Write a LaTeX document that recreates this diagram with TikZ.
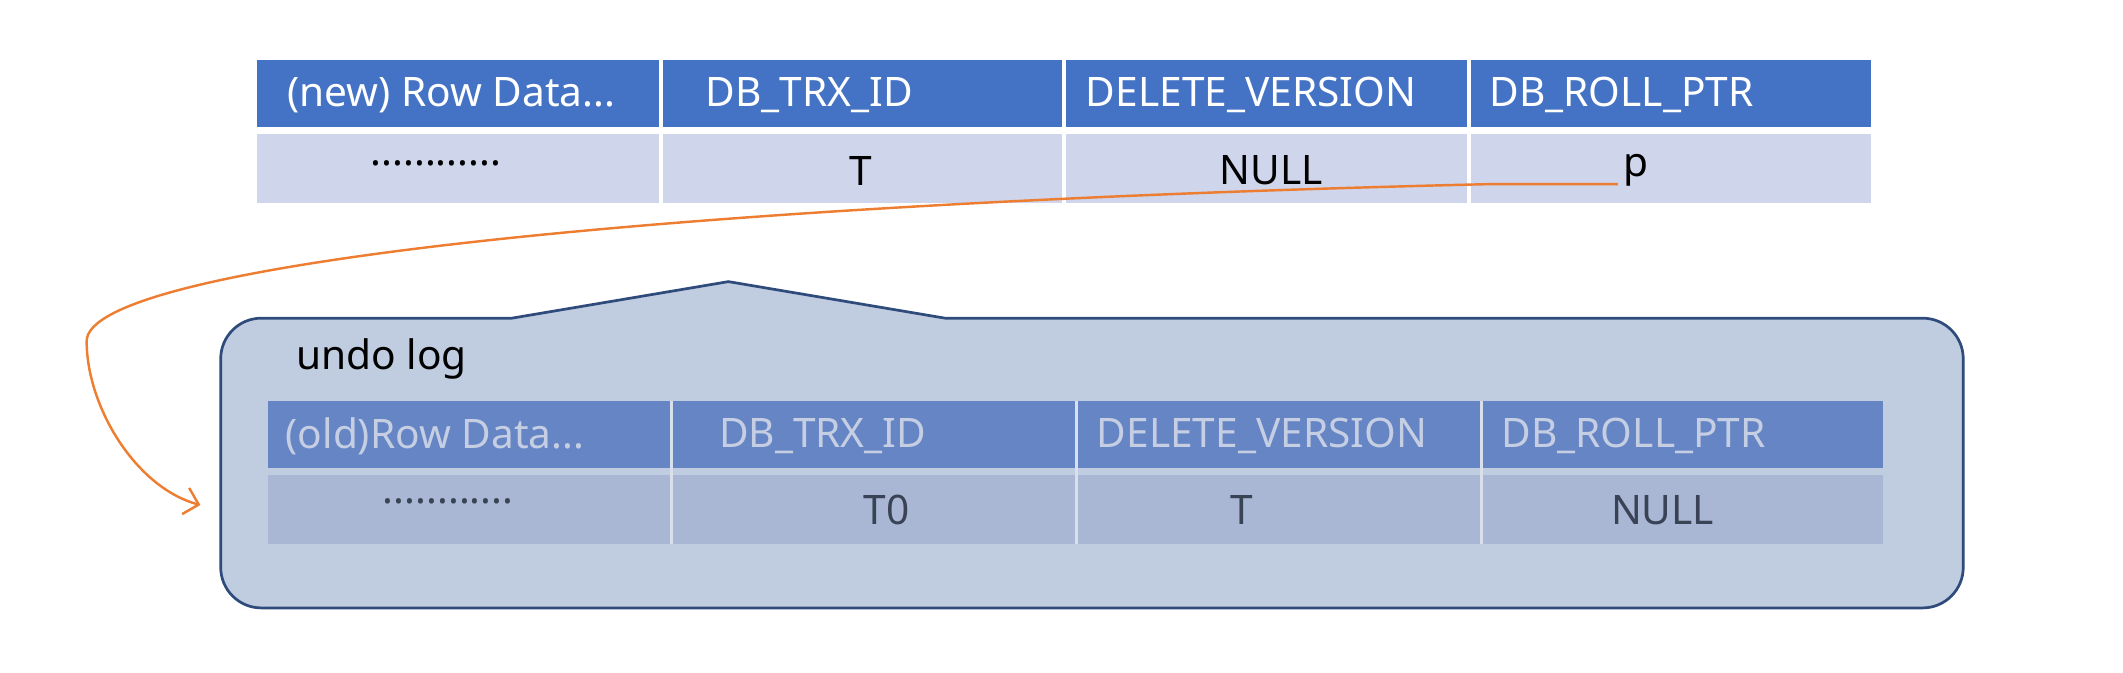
\documentclass[tikz,border=0pt]{standalone}
\usepackage{fontspec}
\setmainfont{Noto Sans}
\usetikzlibrary{arrows.meta}
\begin{document}
\begin{tikzpicture}[x=0.5pt,y=-0.5pt,
  hd/.style={anchor=west,text=white,font=\fontsize{15}{16}\selectfont\bfseries},
  hd2/.style={anchor=west,text=lhd,font=\fontsize{15}{16}\selectfont\bfseries},
  val/.style={font=\fontsize{15}{16}\selectfont},
  val2/.style={font=\fontsize{15}{16}\selectfont,text=lval}]
\definecolor{thd}{HTML}{4472C4}\definecolor{trow}{HTML}{CFD5EA}
\definecolor{bhd}{HTML}{6685C4}\definecolor{brow}{HTML}{A9B7D5}
\definecolor{bfill}{HTML}{C0CCDF}\definecolor{bline}{HTML}{2F4B7C}
\definecolor{lhd}{HTML}{C5CEE3}\definecolor{lval}{HTML}{3A4255}
\definecolor{arr}{HTML}{ED7D31}
\useasboundingbox (0,0) rectangle (1568,497);
% top table
\fill[thd] (190,44) rectangle (1382,94);
\fill[trow] (190,99) rectangle (1382,150);
\foreach \x in {488,786,1085} \draw[white,line width=1.5pt] (\x,44)--(\x,150);
\node[hd] (h1) at (205,70) {(new) Row Data...};
\node[hd] (h2) at (514,70) {DB\_TRX\_ID};
\node[hd] (h3) at (795,70) {DELETE\_VERSION};
\node[hd] (h4) at (1093,70) {DB\_ROLL\_PTR};
\node[val] (v1) at (322,121) {............};
\node[val] (v2) at (636,126) {T};
\node[val] (v3) at (939,126) {NULL};
\node[val] (v4) at (1208,126) {p};
% undo box
\draw[bline,fill=bfill,line width=1pt] (193,235)--(378,235)--(538,208)--(698,235)--(1420,235)
  arc[start angle=90,end angle=0,x radius=30,y radius=-30]--(1450,419)
  arc[start angle=0,end angle=-90,x radius=30,y radius=-30]--(193,449)
  arc[start angle=270,end angle=180,x radius=30,y radius=-30]--(163,265)
  arc[start angle=180,end angle=90,x radius=30,y radius=-30]--cycle;
\node[val,anchor=west] (ul) at (212,265) {undo log};
\fill[bhd] (198,296) rectangle (1391,346);
\fill[brow] (198,351) rectangle (1391,402);
\foreach \x in {496,795,1094} \draw[bfill!60!white,line width=1pt] (\x,296)--(\x,402);
\node[hd2] (g1) at (204,322) {(old)Row Data...};
\node[hd2] (g2) at (524,322) {DB\_TRX\_ID};
\node[hd2] (g3) at (803,322) {DELETE\_VERSION};
\node[hd2] (g4) at (1102,322) {DB\_ROLL\_PTR};
\node[val2] (w1) at (331,370) {............};
\node[val2] (w2) at (655,377) {T0};
\node[val2] (w3) at (917,377) {T};
\node[val2] (w4) at (1228,377) {NULL};
\coordinate (s) at (1195,136);
\coordinate (e) at (148,373);
\draw[arr,line width=0.9pt,-{Straight Barb[length=5pt]}] (s) -- (1100,136) .. controls (500,150) and (64,195) .. (64,252) .. controls (64,300) and (100,360) .. (e);
\end{tikzpicture}
\end{document}
